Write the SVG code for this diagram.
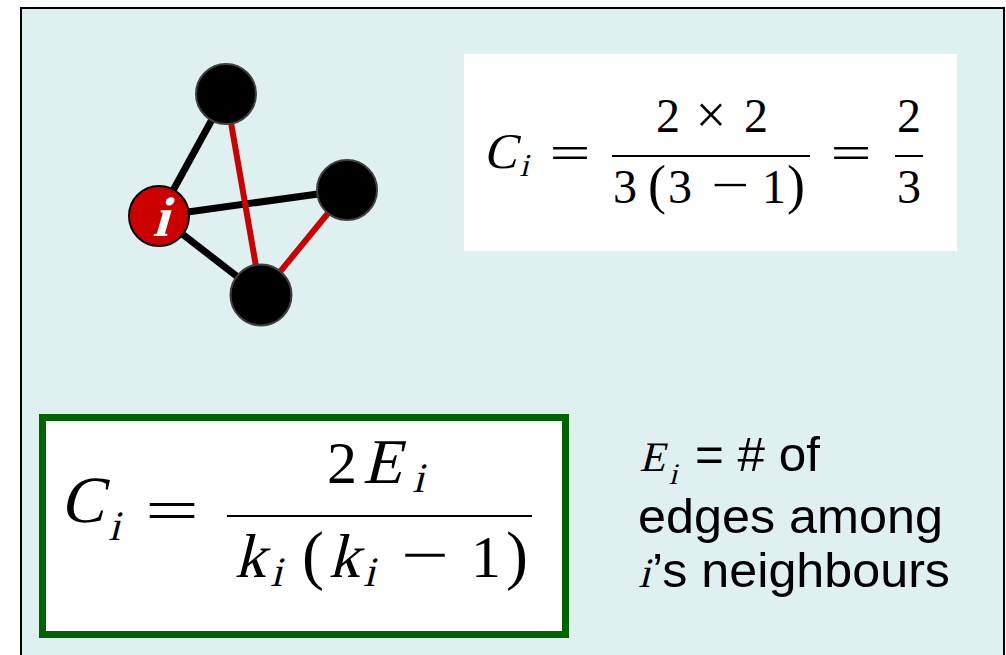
<svg xmlns="http://www.w3.org/2000/svg" width="1006" height="655" viewBox="0 0 1006 655">
<style>
.m{font-family:"Liberation Serif","Times New Roman",serif;fill:#000;text-anchor:middle}
.t{font-family:"Liberation Sans",Arial,sans-serif;font-size:48px;fill:#000}
.edge{stroke-width:7;stroke-linecap:butt}
.blk{stroke:#000}
.red{stroke:#cc0000;stroke-width:6}
.node{fill:#000;stroke:#404040;stroke-width:2}
.bar{stroke:#000;stroke-width:2}
</style>
<rect x="21" y="8" width="983" height="660" fill="#dff0f0" stroke="#000" stroke-width="2"/>
<g id="connectors">
<line class="edge blk" x1="159" y1="216" x2="226" y2="94"/>
<line class="edge blk" x1="159" y1="216" x2="347" y2="190"/>
<line class="edge blk" x1="159" y1="216" x2="261" y2="295"/>
<line class="edge red" x1="226" y1="94" x2="261" y2="295"/>
<line class="edge red" x1="347" y1="190" x2="261" y2="295"/>
</g>
<g id="node-top"><circle class="node" cx="226" cy="94" r="30"/></g>
<g id="node-right"><circle class="node" cx="347" cy="190" r="30"/></g>
<g id="node-bottom"><circle class="node" cx="261" cy="295" r="30.5"/></g>
<g id="node-i"><circle cx="159" cy="216" r="30" fill="#cc0000" stroke="#000" stroke-width="2"/>
<text class="m" transform="translate(160,236) skewX(-16)" font-weight="bold" font-size="56" style="fill:#fff">i</text></g>
<g id="example-formula">
<rect x="464" y="54" width="493" height="197" fill="#fff"/>
<text class="m" transform="translate(500,168) skewX(-14)" font-size="50">C</text>
<text class="m" transform="translate(524,176) skewX(-14)" font-size="32">i</text>
<text class="m" x="570" y="169" font-size="48" textLength="41" lengthAdjust="spacingAndGlyphs">=</text>
<line class="bar" x1="612" y1="156" x2="810" y2="156"/>
<text class="m" x="668" y="132" font-size="48">2</text>
<text class="m" x="711" y="133" font-size="54">×</text>
<text class="m" x="756" y="132" font-size="48">2</text>
<text class="m" x="625" y="203" font-size="48">3</text>
<text class="m" x="657" y="203" font-size="54">(</text>
<text class="m" x="680" y="203" font-size="48">3</text>
<text class="m" x="730" y="201" font-size="48" textLength="38" lengthAdjust="spacingAndGlyphs">−</text>
<text class="m" x="774" y="203" font-size="48">1</text>
<text class="m" x="796" y="203" font-size="54">)</text>
<text class="m" x="851" y="169" font-size="48" textLength="41" lengthAdjust="spacingAndGlyphs">=</text>
<line class="bar" x1="895" y1="156" x2="923" y2="156"/>
<text class="m" x="909" y="132" font-size="48">2</text>
<text class="m" x="909" y="203" font-size="48">3</text>
</g>
<g id="general-formula">
<rect x="42.5" y="417.5" width="523" height="217" fill="#fff" stroke="#006400" stroke-width="7"/>
<text class="m" transform="translate(82,522) skewX(-14)" font-size="66">C</text>
<text class="m" transform="translate(114,540) skewX(-14)" font-size="42">i</text>
<text class="m" x="172" y="530" font-size="60" textLength="54" lengthAdjust="spacingAndGlyphs">=</text>
<line class="bar" x1="227" y1="516" x2="532" y2="516"/>
<text class="m" x="342" y="483" font-size="60">2</text>
<text class="m" transform="translate(382,483) skewX(-14)" font-size="64">E</text>
<text class="m" transform="translate(418,492) skewX(-14)" font-size="42">i</text>
<text class="m" transform="translate(250,577) skewX(-14)" font-size="62">k</text>
<text class="m" transform="translate(276,586) skewX(-14)" font-size="42">i</text>
<text class="m" x="313" y="577" font-size="66">(</text>
<text class="m" transform="translate(344,577) skewX(-14)" font-size="62">k</text>
<text class="m" transform="translate(369,586) skewX(-14)" font-size="42">i</text>
<text class="m" x="425" y="575" font-size="60" textLength="48" lengthAdjust="spacingAndGlyphs">−</text>
<text class="m" x="486" y="577" font-size="60">1</text>
<text class="m" x="517" y="577" font-size="66">)</text>
</g>
<g id="legend">
<text class="m" transform="translate(652,471) skewX(-14)" font-size="42">E</text>
<text class="m" transform="translate(673,484) skewX(-14)" font-size="30">i</text>
<text class="t" x="695" y="471" textLength="125" lengthAdjust="spacingAndGlyphs">= # of</text>
<text class="t" x="638" y="533" textLength="305" lengthAdjust="spacingAndGlyphs">edges among</text>
<text class="m" transform="translate(644,587) skewX(-14)" font-size="42">i</text>
<text class="t" x="652" y="587" textLength="298" lengthAdjust="spacingAndGlyphs">’s neighbours</text>
</g>
</svg>
